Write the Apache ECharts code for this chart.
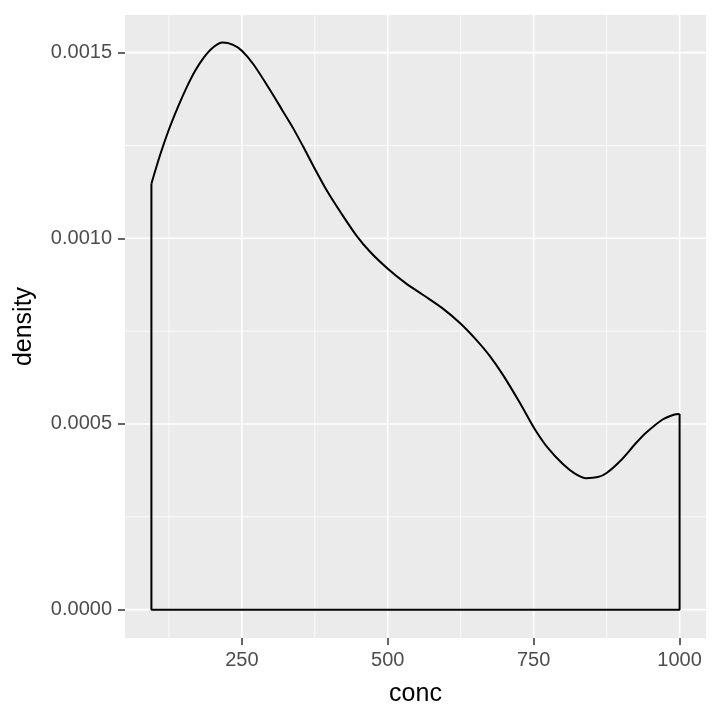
<!DOCTYPE html>
<html>
<head>
<meta charset="utf-8">
<script src="https://cdn.jsdelivr.net/npm/echarts@6/dist/echarts.min.js"></script>
<style>
html,body{margin:0;padding:0;background:#fff;}
#chart{width:720px;height:720px;}
</style>
</head>
<body>
<div id="chart"></div>
<script>
// Density curve
const concValues = [95, 110, 125, 140, 155, 170, 185, 200, 217, 235, 250, 270, 298, 320, 338, 355, 374, 395, 420, 446, 470, 500, 530, 560, 595, 625, 652, 675, 697, 726, 752, 775, 800, 820, 840, 860, 875, 900, 925, 943, 971, 990, 1000];
const densityValues = [0.001147, 0.001225, 0.001293, 0.001352, 0.001405, 0.001451, 0.001487, 0.001513, 0.001527, 0.001521, 0.001505, 0.001468, 0.001400, 0.001343, 0.001296, 0.001247, 0.001190, 0.001130, 0.001068, 0.001008, 0.000963, 0.000918, 0.000880, 0.000848, 0.000810, 0.000770, 0.000726, 0.000683, 0.000633, 0.000558, 0.000486, 0.000434, 0.000392, 0.000367, 0.000354, 0.000357, 0.000368, 0.000403, 0.000448, 0.000477, 0.000512, 0.000525, 0.000527];
const xTicks = [250, 500, 750, 1000];
const xMinor = [125, 375, 625, 875];
const yTicks = [0, 0.0005, 0.0010, 0.0015];
const yMinor = [0.00025, 0.00075, 0.00125];
const xRange = [49.75, 1045.25];
const yRange = [-0.0000763, 0.0016013];

const curve = concValues.map((x, i) => [x, densityValues[i]]);
const n = concValues.length;
const outline = [
  [concValues[n - 1], densityValues[n - 1]],
  [concValues[n - 1], 0],
  [concValues[0], 0],
  [concValues[0], densityValues[0]]
];

function gridSeries(vals, vertical, width) {
  return vals.map(v => ({
    type: 'line', silent: true, showSymbol: false, z: 1,
    data: vertical ? [[v, yRange[0]], [v, yRange[1]]] : [[xRange[0], v], [xRange[1], v]],
    lineStyle: { color: '#FFFFFF', width: width },
    emphasis: { disabled: true }
  }));
}

const chart = echarts.init(document.getElementById('chart'), null, { renderer: 'canvas' });
chart.setOption({
  animation: false,
  textStyle: { fontFamily: 'Liberation Sans, Arial, sans-serif' },
  grid: {
    left: 125, right: 14, top: 15, bottom: 82,
    show: true, backgroundColor: '#EBEBEB', borderWidth: 0
  },
  xAxis: {
    type: 'value', min: xRange[0], max: xRange[1],
    axisLine: { show: false, onZero: false },
    axisTick: { show: true, customValues: xTicks, length: 7, lineStyle: { color: '#333333', width: 1.5 } },
    axisLabel: { customValues: xTicks, color: '#4D4D4D', fontSize: 20, margin: 12, fontFamily: 'Liberation Sans',
      formatter: v => String(v) },
    splitLine: { show: false },
    name: 'conc', nameLocation: 'middle', nameGap: 44,
    nameTextStyle: { color: '#000000', fontSize: 25, fontFamily: 'Liberation Sans' }
  },
  yAxis: {
    type: 'value', min: yRange[0], max: yRange[1],
    axisLine: { show: false, onZero: false },
    axisTick: { show: true, customValues: yTicks, length: 7, lineStyle: { color: '#333333', width: 1.5 } },
    axisLabel: {
      customValues: yTicks, color: '#4D4D4D', fontSize: 20, margin: 13, fontFamily: 'Liberation Sans',
      formatter: v => Number(v).toFixed(4)
    },
    splitLine: { show: false },
    name: 'density', nameLocation: 'middle', nameGap: 88, nameRotate: 90,
    nameTextStyle: { color: '#000000', fontSize: 25, fontFamily: 'Liberation Sans' }
  },
  series: []
    .concat(gridSeries(xMinor, true, 0.8))
    .concat(gridSeries(yMinor, false, 0.8))
    .concat(gridSeries(xTicks, true, 1.6))
    .concat(gridSeries(yTicks, false, 1.6))
    .concat([
      {
        type: 'line', data: curve, smooth: 0.3, showSymbol: false, z: 5,
        lineStyle: { color: '#000000', width: 2 }
      },
      {
        type: 'line', data: outline, smooth: false, showSymbol: false, z: 5,
        lineStyle: { color: '#000000', width: 2 }
      }
    ])
});
</script>
</body>
</html>
